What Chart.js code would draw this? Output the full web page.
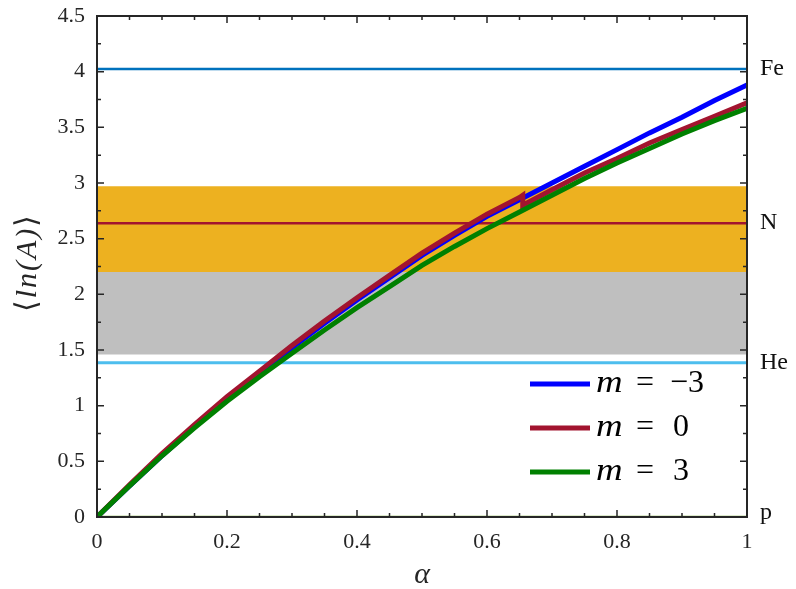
<!DOCTYPE html>
<html>
<head>
<meta charset="utf-8">
<script src="https://cdn.jsdelivr.net/npm/chart.js@4.4.1/dist/chart.umd.min.js"></script>
<style>
  html, body { margin: 0; padding: 0; background: #fff; }
  #wrap { width: 796px; height: 589px; position: relative; }
</style>
</head>
<body>
<div id="wrap"><canvas id="c"></canvas></div>
<script>
// curves <ln(A)> vs alpha
const alpha = [0, 0.05, 0.1, 0.15, 0.2, 0.25, 0.3, 0.35, 0.4, 0.45, 0.5, 0.55, 0.6, 0.65, 0.7, 0.75, 0.8, 0.85, 0.9, 0.95, 1];
const lnA_mNeg3 = [0, 0.28, 0.55, 0.81, 1.06, 1.29, 1.52, 1.74, 1.95, 2.15, 2.35, 2.53, 2.70, 2.85, 3.00, 3.15, 3.30, 3.45, 3.59, 3.74, 3.88];
const lnA_m3 = [0, 0.28, 0.55, 0.80, 1.04, 1.26, 1.47, 1.68, 1.88, 2.07, 2.26, 2.43, 2.59, 2.74, 2.89, 3.04, 3.18, 3.31, 3.44, 3.56, 3.67];
// m = 0 has a jump near alpha = 0.655
const alphaM0 = [0, 0.05, 0.1, 0.15, 0.2, 0.25, 0.3, 0.35, 0.4, 0.45, 0.5, 0.55, 0.6, 0.65, 0.655, 0.655, 0.7, 0.75, 0.8, 0.85, 0.9, 0.95, 1];
const lnA_m0 = [0, 0.29, 0.57, 0.83, 1.08, 1.31, 1.54, 1.76, 1.97, 2.17, 2.37, 2.55, 2.72, 2.87, 2.89, 2.80, 2.94, 3.09, 3.22, 3.36, 3.48, 3.60, 3.72];

const mValues = [-3, 0, 3];
const curveColors = ['#0000ff', '#a2142f', '#008000'];

// reference nuclei
const elements = ['Fe', 'N', 'He', 'p'];
const elementLnA = [4.025, 2.639, 1.386, 0];
const elementColors = ['#0072bd', '#a2142f', '#4dbeee', '#77ac30'];

// shaded bands [low, high]
const bandOrange = [2.2, 2.97];
const bandGray = [1.46, 2.2];

const xMajor = [0, 0.2, 0.4, 0.6, 0.8, 1];
const xMinor = [0.05, 0.1, 0.15, 0.25, 0.3, 0.35, 0.45, 0.5, 0.55, 0.65, 0.7, 0.75, 0.85, 0.9, 0.95];
const yMajor = [0, 0.5, 1, 1.5, 2, 2.5, 3, 3.5, 4, 4.5];
const yMinor = [0.25, 0.75, 1.25, 1.75, 2.25, 2.75, 3.25, 3.75, 4.25];

const SERIF = "'Liberation Serif', Tinos, 'Times New Roman', Times, serif";
const INK = '#262626';

const pts = (xs, ys) => xs.map((v, i) => ({x: v, y: ys[i]}));
const hline = (v) => [{x: 0, y: v}, {x: 1, y: v}];
const fmt = (v) => String(Number(v.toFixed(2)));

const datasets = [];

datasets.push({
    data: hline(bandOrange[1]), borderWidth: 0, pointRadius: 0,
    backgroundColor: '#edb120', fill: {value: bandOrange[0]}, order: 10
});
datasets.push({
    data: hline(bandGray[1]), borderWidth: 0, pointRadius: 0,
    backgroundColor: '#bfbfbf', fill: {value: bandGray[0]}, order: 10
});

elements.forEach((el, i) => {
    datasets.push({
        data: hline(elementLnA[i]), borderColor: elementColors[i],
        borderWidth: i === 2 ? 3 : 2.5, pointRadius: 0, fill: false, order: 5
    });
});

const curves = [pts(alpha, lnA_mNeg3), pts(alphaM0, lnA_m0), pts(alpha, lnA_m3)];
curves.forEach((d, i) => {
    datasets.push({
        label: 'm = ' + mValues[i],
        data: d, borderColor: curveColors[i], borderWidth: 5,
        pointRadius: 0, fill: false, tension: 0, order: 3 - i,
        borderJoinStyle: 'miter'
    });
});

const decor = {
    id: 'decor',
    afterDraw(chart) {
        const {ctx, chartArea: a, scales: {x, y}} = chart;
        ctx.save();

        // box
        ctx.strokeStyle = INK;
        ctx.lineWidth = 2;
        ctx.strokeRect(a.left, a.top, a.right - a.left, a.bottom - a.top);

        // inward ticks on all sides
        ctx.lineWidth = 1.5;
        ctx.beginPath();
        const xt = (v, len) => {
            const px = x.getPixelForValue(v);
            ctx.moveTo(px, a.bottom); ctx.lineTo(px, a.bottom - len);
            ctx.moveTo(px, a.top); ctx.lineTo(px, a.top + len);
        };
        const yt = (v, len) => {
            const py = y.getPixelForValue(v);
            ctx.moveTo(a.left, py); ctx.lineTo(a.left + len, py);
            ctx.moveTo(a.right, py); ctx.lineTo(a.right - len, py);
        };
        xMajor.forEach(v => xt(v, 7));
        xMinor.forEach(v => xt(v, 4));
        yMajor.forEach(v => yt(v, 7));
        yMinor.forEach(v => yt(v, 4));
        ctx.stroke();

        // nucleus names on the right
        ctx.fillStyle = '#111';
        ctx.font = '24px ' + SERIF;
        ctx.textAlign = 'left';
        ctx.textBaseline = 'middle';
        elements.forEach((el, i) => {
            const py = y.getPixelForValue(elementLnA[i]);
            ctx.fillText(el, a.right + 13, el === 'p' ? py - 4 : py);
        });

        // axis titles
        ctx.fillStyle = INK;
        ctx.font = 'italic 30px ' + SERIF;
        ctx.textAlign = 'center';
        ctx.fillText('α', (a.left + a.right) / 2, 575);

        ctx.save();
        ctx.translate(28, (a.top + a.bottom) / 2 - 4);
        ctx.rotate(-Math.PI / 2);
        ctx.letterSpacing = '2px';
        ctx.textAlign = 'left';
        const parts = [['⟨', ''], ['ln(A)', 'italic '], ['⟩', '']];
        let total = 0;
        parts.forEach(p => { ctx.font = p[1] + '30px ' + SERIF; total += ctx.measureText(p[0]).width; });
        let cx = -total / 2;
        parts.forEach(p => {
            ctx.font = p[1] + '30px ' + SERIF;
            ctx.fillText(p[0], cx, 0);
            cx += ctx.measureText(p[0]).width;
        });
        ctx.restore();

        // legend
        const rows = [384, 428, 472];
        mValues.forEach((m, i) => {
            const ly = rows[i];
            ctx.strokeStyle = curveColors[i];
            ctx.lineWidth = 5;
            ctx.beginPath();
            ctx.moveTo(530, ly); ctx.lineTo(590, ly);
            ctx.stroke();

            ctx.fillStyle = '#000';
            ctx.textBaseline = 'middle';
            ctx.textAlign = 'left';
            ctx.save();
            ctx.translate(596, ly);
            ctx.scale(1.15, 1);
            ctx.font = 'italic 32px ' + SERIF;
            ctx.fillText('m', 0, 0);
            ctx.restore();
            ctx.font = '32px ' + SERIF;
            ctx.fillText('=', 636, ly);
            const txt = m < 0 ? '\u2212' + Math.abs(m) : String(m);
            ctx.fillText(txt, m < 0 ? 670 : 673, ly);
        });

        ctx.restore();
    }
};

new Chart(document.getElementById('c'), {
    type: 'line',
    data: {datasets},
    plugins: [decor],
    options: {
        responsive: true,
        maintainAspectRatio: false,
        animation: false,
        layout: {padding: {top: 16, right: 49, left: 0, bottom: 0}},
        plugins: {legend: {display: false}, tooltip: {enabled: false}},
        scales: {
            x: {
                type: 'linear', min: 0, max: 1,
                afterFit(s) { s.height = 72; s.paddingLeft = 0; s.paddingRight = 0; },
                grid: {display: false, drawTicks: false},
                border: {display: false},
                ticks: {stepSize: 0.2, padding: 12, color: INK, font: {family: SERIF, size: 22}, maxRotation: 0, callback: fmt}
            },
            y: {
                min: 0, max: 4.5,
                afterFit(s) { s.width = 97; s.paddingTop = 0; s.paddingBottom = 0; },
                grid: {display: false, drawTicks: false},
                border: {display: false},
                ticks: {stepSize: 0.5, padding: 12, color: INK, font: {family: SERIF, size: 22}, callback: fmt}
            }
        }
    }
});
</script>
</body>
</html>
